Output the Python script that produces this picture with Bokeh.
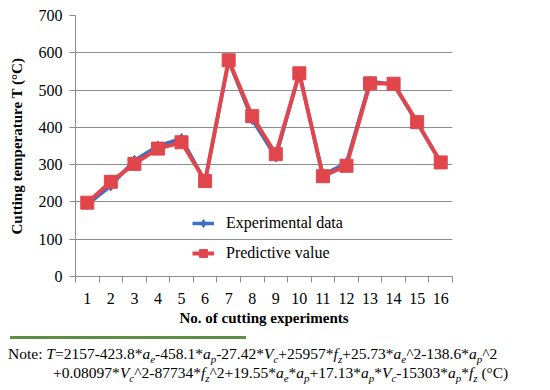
from bokeh.plotting import figure
from bokeh.models import FixedTicker, Range1d, Legend, LegendItem, Div
from bokeh.layouts import column
from bokeh.embed import file_html
from bokeh.resources import INLINE

experiments = list(range(1, 17))
tick_labels = [str(i) for i in experiments]
experimental = [193, 243, 312, 350, 370, 255, 578, 421, 320, 545, 272, 305, 524, 515, 412, 306]
predicted = [198, 254, 302, 343, 360, 256, 580, 430, 328, 545, 269, 297, 518, 517, 414, 306]
y_ticks = [0, 100, 200, 300, 400, 500, 600, 700]

FONT = "Liberation Serif"

p = figure(width=550, height=330, output_backend="svg", toolbar_location=None,
           x_range=Range1d(0.5, 16.5), y_range=Range1d(0, 700),
           min_border_left=75, min_border_right=98, min_border_top=15, min_border_bottom=54)
p.outline_line_color = None
p.background_fill_color = "white"

p.xgrid.grid_line_color = None
p.ygrid.grid_line_color = "#8c8c8c"
p.ygrid.grid_line_width = 1
p.ygrid.ticker = FixedTicker(ticks=y_ticks)

p.xaxis.ticker = FixedTicker(ticks=experiments, minor_ticks=[i + 0.5 for i in range(0, 17)])
p.xaxis.major_label_overrides = {i: s for i, s in zip(experiments, tick_labels)}
p.xaxis.major_tick_line_color = None
p.xaxis.minor_tick_line_color = "#8c8c8c"
p.xaxis.minor_tick_out = 6
p.xaxis.minor_tick_in = 0
p.xaxis.axis_line_color = "#8c8c8c"
p.xaxis.major_label_standoff = 10
p.xaxis.axis_label = "No. of cutting experiments"
p.xaxis.axis_label_standoff = 3

p.yaxis.ticker = FixedTicker(ticks=y_ticks)
p.yaxis.minor_tick_line_color = None
p.yaxis.major_tick_line_color = "#8c8c8c"
p.yaxis.major_tick_out = 6
p.yaxis.major_tick_in = 0
p.yaxis.axis_line_color = "#8c8c8c"
p.yaxis.major_label_standoff = 7
p.yaxis.axis_label = "Cutting temperature T (\u00b0C)"
p.yaxis.axis_label_standoff = 11

for ax in (p.xaxis, p.yaxis):
    ax.major_label_text_font = FONT
    ax.major_label_text_font_size = "16px"
    ax.major_label_text_color = "black"
    ax.axis_label_text_font = FONT
    ax.axis_label_text_font_size = "15px"
    ax.axis_label_text_font_style = "bold"
    ax.axis_label_text_color = "black"

blue = "#3f6fc0"
red = "#e0464b"
l1 = p.line(experiments, experimental, line_color=blue, line_width=3.5)
m1 = p.scatter(experiments, experimental, marker="diamond", size=10, fill_color=blue, line_color=blue)
l2 = p.line(experiments, predicted, line_color=red, line_width=4)
m2 = p.scatter(experiments, predicted, marker="square", size=13, fill_color=red, line_color=red)

legend = Legend(items=[LegendItem(label="Experimental data", renderers=[l1, m1]),
                       LegendItem(label="Predictive value", renderers=[l2, m2])],
                location=(117, 13), orientation="vertical")
legend.background_fill_alpha = 0
legend.border_line_color = None
legend.padding = 0
legend.margin = 0
legend.spacing = 10
legend.glyph_width = 22
legend.glyph_height = 20
legend.label_height = 20
legend.label_standoff = 12
legend.label_text_font = FONT
legend.label_text_font_size = "16px"
legend.label_text_color = "black"
p.add_layout(legend, "center")

note_html = f"""
<div style="font-family:'{FONT}',serif;font-size:15.5px;color:black;line-height:19px;width:548px;">
<div style="width:236px;height:3px;background:#5f8f46;margin:1px 0 5px 5px;"></div>
<div style="white-space:nowrap;padding-left:3px;">Note: <i>T</i>=2157-423.8*<i>a</i><sub><i>e</i></sub>-458.1*<i>a</i><sub><i>p</i></sub>-27.42*<i>V</i><sub><i>c</i></sub>+25957*<i>f</i><sub><i>z</i></sub>+25.73*<i>a</i><sub><i>e</i></sub>^2-138.6*<i>a</i><sub><i>p</i></sub>^2</div>
<div style="white-space:nowrap;padding-left:48px;">+0.08097*<i>V</i><sub><i>c</i></sub>^2-87734*<i>f</i><sub><i>z</i></sub>^2+19.55*<i>a</i><sub><i>e</i></sub>*<i>a</i><sub><i>p</i></sub>+17.13*<i>a</i><sub><i>p</i></sub>*<i>V</i><sub><i>c</i></sub>-15303*<i>a</i><sub><i>p</i></sub>*<i>f</i><sub><i>z</i></sub> (\u00b0C)</div>
</div>
"""
note_html = note_html.replace("<sub>", '<span style="font-size:11px;position:relative;top:4px;line-height:0;">').replace("</sub>", "</span>")
note = Div(text=note_html, width=550, height=58)

layout = column(p, note, spacing=0)
open("out.html", "w").write(file_html(layout, INLINE))
